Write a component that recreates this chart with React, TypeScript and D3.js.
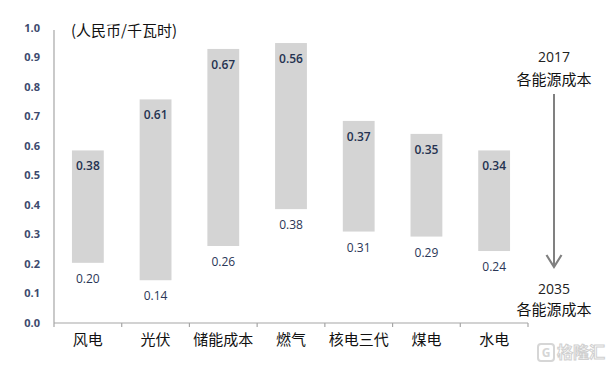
import * as d3 from "d3";

const categories = ["风电", "光伏", "储能成本", "燃气", "核电三代", "煤电", "水电"];
// bar extents as drawn in the picture
const barHigh = [0.585, 0.758, 0.929, 0.949, 0.685, 0.641, 0.585];
const barLow = [0.204, 0.145, 0.261, 0.386, 0.31, 0.293, 0.244];
// printed labels
const label2017 = ["0.38", "0.61", "0.67", "0.56", "0.37", "0.35", "0.34"];
const label2035 = ["0.20", "0.14", "0.26", "0.38", "0.31", "0.29", "0.24"];
const yTicks = [0, 0.1, 0.2, 0.3, 0.4, 0.5, 0.6, 0.7, 0.8, 0.9, 1.0];

const width = 613;
const height = 372;
const left = 54;
const right = 528;
const top = 28;
const bottom = 323;

const labelFont = "'Open Sans', 'Noto Sans CJK SC', sans-serif";
const cjkFont = "'Noto Sans CJK SC', sans-serif";

export default function App() {
  const x = d3.scaleBand<string>().domain(categories).range([left, right]).paddingInner(0.53).paddingOuter(0.265);
  const y = d3.scaleLinear().domain([0, 1]).range([bottom, top]);
  const ticksX = categories.map((c) => x(c)! - (x.step() - x.bandwidth()) / 2).concat([right]);
  const arrowX = 554;

  return (
    <svg
      width={width}
      height={height}
      style={{ position: "absolute", left: 0, top: 0, background: "#fff" }}
    >
      {/* y axis */}
      <line x1={left} x2={left} y1={y(1) + 2} y2={bottom} stroke="#a6a6a6" strokeWidth={1.2} />
      {yTicks.map((t) => (
        <text
          key={t}
          x={40}
          y={y(t)}
          dy="0.35em"
          textAnchor="end"
          fontFamily={labelFont}
          fontWeight={700}
          fontSize={11}
          fill="#3d4a6e"
        >
          {t.toFixed(1)}
        </text>
      ))}
      {/* x axis */}
      <line x1={left} x2={right} y1={bottom} y2={bottom} stroke="#a6a6a6" strokeWidth={1.2} />
      {ticksX.map((tx, i) => (
        <line key={i} x1={tx} x2={tx} y1={bottom} y2={bottom + 4} stroke="#a6a6a6" strokeWidth={1.2} />
      ))}
      {categories.map((c) => (
        <text
          key={c}
          x={x(c)! + x.bandwidth() / 2}
          y={340}
          dy="0.35em"
          textAnchor="middle"
          fontFamily={cjkFont}
          fontSize={15}
          fill="#111"
        >
          {c}
        </text>
      ))}
      {/* bars */}
      {categories.map((c, i) => (
        <g key={c}>
          <rect
            x={x(c)!}
            width={x.bandwidth()}
            y={y(barHigh[i])}
            height={y(barLow[i]) - y(barHigh[i])}
            fill="#d4d4d4"
          />
          <text
            x={x(c)! + x.bandwidth() / 2}
            y={y(barHigh[i]) + 15.5}
            dy="0.35em"
            textAnchor="middle"
            fontFamily={labelFont}
            fontWeight={600}
            fontSize={12}
            fill="#243250"
          >
            {label2017[i]}
          </text>
          <text
            x={x(c)! + x.bandwidth() / 2}
            y={y(barLow[i]) + 16}
            dy="0.35em"
            textAnchor="middle"
            fontFamily={labelFont}
            fontSize={12}
            fill="#2a3656"
          >
            {label2035[i]}
          </text>
        </g>
      ))}
      {/* unit */}
      <text x={71} y={31} dy="0.35em" fontFamily={cjkFont} fontSize={15} fill="#111">
        (人民币/千瓦时)
      </text>
      {/* annotation */}
      <text x={arrowX} y={57} dy="0.35em" textAnchor="middle" fontFamily={labelFont} fontSize={14} fill="#222">
        2017
      </text>
      <text x={arrowX} y={80} dy="0.35em" textAnchor="middle" fontFamily={cjkFont} fontSize={15} fill="#111">
        各能源成本
      </text>
      <line x1={arrowX} x2={arrowX} y1={94} y2={267} stroke="#808080" strokeWidth={2} />
      <polyline
        points={`${arrowX - 7.5},${255} ${arrowX},${267} ${arrowX + 7.5},${255}`}
        fill="none"
        stroke="#808080"
        strokeWidth={2.2}
      />
      <text x={arrowX} y={289} dy="0.35em" textAnchor="middle" fontFamily={labelFont} fontSize={14} fill="#222">
        2035
      </text>
      <text x={arrowX} y={310} dy="0.35em" textAnchor="middle" fontFamily={cjkFont} fontSize={15} fill="#111">
        各能源成本
      </text>
      {/* watermark */}
      <g>
        <rect x={538} y={344} width={16} height={17} rx={3} fill="none" stroke="#d6d6d6" strokeWidth={2} />
        <text x={546} y={352.5} dy="0.35em" textAnchor="middle" fontFamily={labelFont} fontWeight={700} fontSize={12} fill="#d6d6d6">
          G
        </text>
        <text x={557} y={352.5} dy="0.35em" fontFamily={cjkFont} fontWeight={700} fontSize={16} fill="#fff" stroke="#d0d0d0" strokeWidth={1}>
          格隆汇
        </text>
      </g>
    </svg>
  );
}
